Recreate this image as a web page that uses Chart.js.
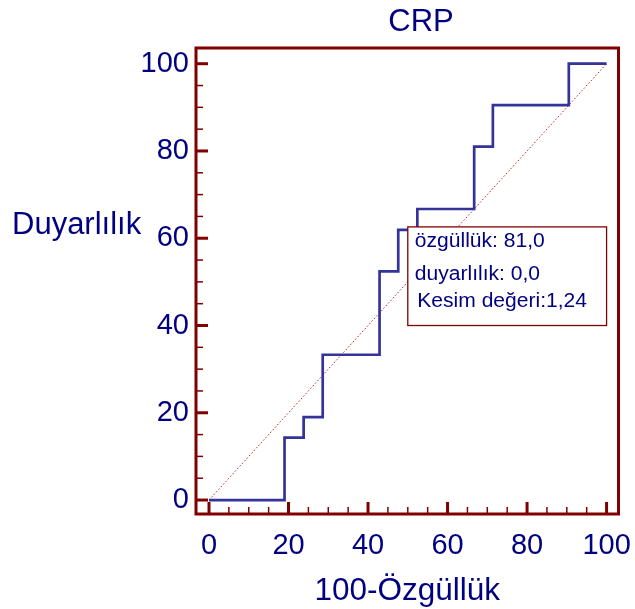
<!DOCTYPE html>
<html>
<head>
<meta charset="utf-8">
<script src="https://cdn.jsdelivr.net/npm/chart.js@4/dist/chart.umd.min.js"></script>
<style>body{margin:0;background:#fff}</style>
</head>
<body>
<canvas id="myChart" width="635" height="609"></canvas>
<script>
// VERİLER (ROC eğrisi, CRP)
var baslik = 'CRP';
var ozgullukTers = [0, 19.0, 23.8, 28.6, 42.9, 47.6, 52.4, 66.7, 71.4, 90.5, 100];
var duyarlilik = [0, 14.3, 19.0, 33.3, 52.4, 61.9, 66.7, 81.0, 90.5, 100, 100];
var referansX = [0, 100];
var referansY = [0, 100];
var tikDegerleri = [0, 20, 40, 60, 80, 100];
var kutuYazilari = ['özgüllük: 81,0', 'duyarlılık: 0,0', 'Kesim değeri:1,24'];

var lacivert = '#000080';
var bordo = '#800000';
var yazi = '"Liberation Sans", Arial, sans-serif';
Chart.defaults.font.family = yazi;

// ÇERÇEVE, İÇE DÖNÜK TİKLER, BAŞLIKLAR VE AÇIKLAMA KUTUSU
const cerceve = {
    id: 'cerceve',
    afterDatasetsDraw(chart) {
        const ctx = chart.ctx, a = chart.chartArea;
        const x = chart.scales.x, y = chart.scales.y;
        ctx.save();
        ctx.strokeStyle = bordo;
        for (let v = 0; v <= 100; v += 5) {
            const buyuk = v % 20 === 0;
            const l = buyuk ? 12 : 7;
            ctx.lineWidth = buyuk ? 3 : 1.5;
            const px = x.getPixelForValue(v);
            ctx.beginPath(); ctx.moveTo(px, a.bottom); ctx.lineTo(px, a.bottom - l); ctx.stroke();
            const py = y.getPixelForValue(v);
            ctx.beginPath(); ctx.moveTo(a.left, py); ctx.lineTo(a.left + l, py); ctx.stroke();
        }
        ctx.lineWidth = 3;
        ctx.strokeRect(a.left, a.top, a.right - a.left, a.bottom - a.top);

        // açıklama kutusu
        const x1 = x.getPixelForValue(50), x2 = x.getPixelForValue(100);
        const y1 = y.getPixelForValue(62.6), y2 = y.getPixelForValue(40);
        ctx.fillStyle = '#fff';
        ctx.fillRect(x1, y1, x2 - x1, y2 - y1);
        ctx.lineWidth = 1.3;
        ctx.strokeRect(x1, y1, x2 - x1, y2 - y1);
        ctx.fillStyle = lacivert;
        ctx.font = '19.5px ' + yazi;
        ctx.textAlign = 'left';
        ctx.textBaseline = 'alphabetic';
        const satirlar = [[7, 20], [7, 53], [9.5, 80]];
        kutuYazilari.forEach((t, i) => {
            ctx.save();
            ctx.translate(x1 + satirlar[i][0], y1 + satirlar[i][1]);
            ctx.scale(1.08, 1);
            ctx.fillText(t, 0, 0);
            ctx.restore();
        });

        // y ekseni başlığı (yatay) ve grafik başlığı
        ctx.font = '31px ' + yazi;
        ctx.fillText('Duyarlılık', 12, 234);
        ctx.textAlign = 'center';
        ctx.fillText(baslik, 421, 31);
        ctx.restore();
    }
};

const ctx = document.getElementById('myChart').getContext('2d');
const myChart = new Chart(ctx, {
    type: 'scatter',
    data: {
        datasets: [{
            label: 'Referans',
            data: referansX.map((v, i) => ({x: v, y: referansY[i]})),
            showLine: true,
            borderColor: '#b22222',
            borderWidth: 1,
            borderDash: [1.5, 2],
            pointRadius: 0,
            order: 2
        }, {
            label: baslik,
            data: ozgullukTers.map((v, i) => ({x: v, y: duyarlilik[i]})),
            showLine: true,
            stepped: true,
            borderColor: '#333399',
            borderWidth: 2.7,
            pointRadius: 0,
            order: 1
        }]
    },
    options: {
        responsive: false,
        animation: false,
        layout: {padding: {top: 48, right: 16.5, left: 0, bottom: 0}},
        plugins: {
            legend: {display: false},
            tooltip: {enabled: false},
            title: {display: false}
        },
        scales: {
            x: {
                type: 'linear',
                min: -3.27,
                max: 103,
                grid: {display: false, drawTicks: false},
                border: {display: false},
                afterBuildTicks: s => { s.ticks = tikDegerleri.map(v => ({value: v})); },
                afterFit: s => { s.height = 95; s.paddingLeft = 0; s.paddingRight = 0; },
                ticks: {color: lacivert, font: {size: 29}, padding: 15, maxRotation: 0},
                title: {
                    display: true,
                    text: '100-Özgüllük',
                    color: lacivert,
                    font: {size: 31.5, lineHeight: 1.1},
                    padding: {top: 0, bottom: 0}
                }
            },
            y: {
                type: 'linear',
                min: -3.2,
                max: 103.6,
                grid: {display: false, drawTicks: false},
                border: {display: false},
                afterBuildTicks: s => { s.ticks = tikDegerleri.map(v => ({value: v})); },
                afterFit: s => { s.width = 196; s.paddingTop = 0; s.paddingBottom = 0; },
                ticks: {color: lacivert, font: {size: 29}, padding: 7}
            }
        }
    },
    plugins: [cerceve]
});
</script>
</body>
</html>
